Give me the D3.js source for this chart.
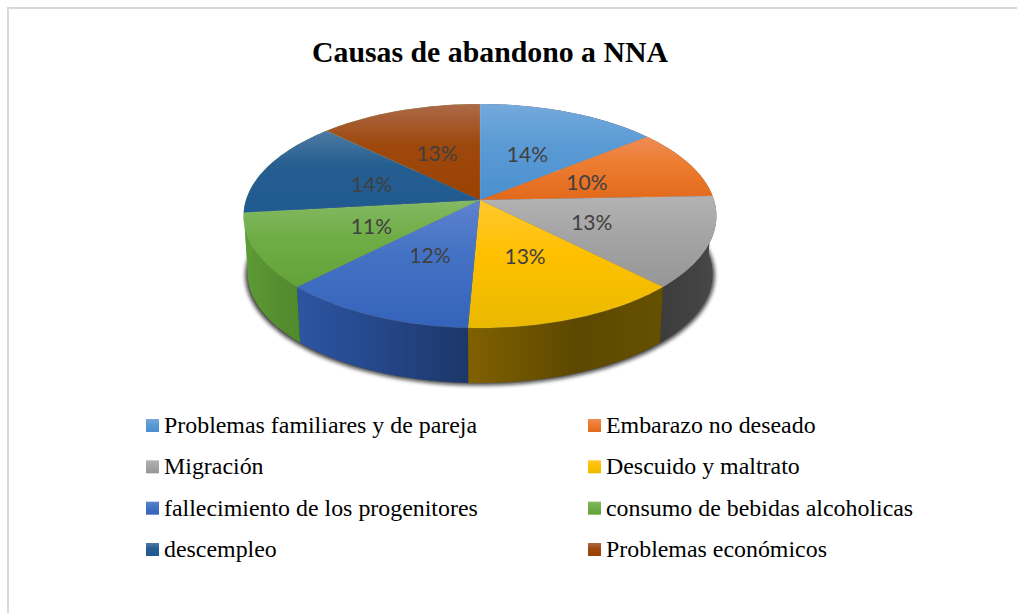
<!DOCTYPE html>
<html><head><meta charset="utf-8">
<script src="https://cdn.jsdelivr.net/npm/d3@7"></script>
<style>html,body{margin:0;padding:0;background:#fff;overflow:hidden}svg{display:block}</style>
</head><body><div id="chart"></div>
<script>
const title = "Causas de abandono a NNA";
const categories = ["Problemas familiares y de pareja","Embarazo no deseado","Migración","Descuido y maltrato","fallecimiento de los progenitores","consumo de bebidas alcoholicas","descempleo","Problemas económicos"];
const values = [14.2,10.2,13.2,13.1,11.7,10.8,14.0,12.8];
const topLight = ["#74a9dc","#ee8c55","#b3b3b3","#ffc82f","#5f82cf","#84b964","#4f7aa3","#ac6a48"];
const topBase  = ["#5b9bd5","#ed7d31","#a5a5a5","#ffc000","#4472c4","#70ad47","#255e91","#9e480e"];
const topDark  = ["#4a8fcf","#e2691b","#969696","#e9b900","#3463bb","#62a337","#1f5a90","#9a4200"];
const wallA    = ["#3c3c3c","#3c3c3c","#3c3c3c","#806100","#2c55a3","#5d9c35","#5d9c35","#5d9c35"];
const wallM    = ["#3c3c3c","#3c3c3c","#424242","#5c4800","#244585","#568f30","#5d9c35","#5d9c35"];
const wallB    = ["#3c3c3c","#3c3c3c","#484848","#665000","#1c3768","#4f8a2b","#5d9c35","#5d9c35"];
const legendColumns = 2;

const W = 1017, H = 613;
const svg = d3.select("#chart").append("svg").attr("width",W).attr("height",H);
const defs = svg.append("defs");

// Tilted disc: a point (r, angle) is mapped through a perspective divide.
const persp = 1/7;
const xScale = d3.scaleLinear().domain([-1,1]).range([246,714]);
const yTop = d3.scaleLinear().domain([-1,1]).range([309.7,90.3]);
const xBot = d3.scaleLinear().domain([-1,1]).range([250,710]);
const yBot = d3.scaleLinear().domain([-1,1]).range([365.1,150.1]);
const xShadow = d3.scaleLinear().domain([-1,1]).range([248,712]);
function project(xs, ys, r, a){
  const x = r*Math.sin(a), z = r*Math.cos(a), w = 1 + persp*z;
  return [xs(x/w), ys(z/w)];
}
const pie = d3.pie().sort(null).value(d=>d)(values);
const line = d3.line();
function arcPts(xs, ys, a0, a1){
  const n = Math.max(2, Math.ceil((a1-a0)/0.02));
  return d3.range(n+1).map(i=>project(xs,ys,1,a0+(a1-a0)*i/n));
}
function grad(id, horizontal, stops){
  const g = defs.append("linearGradient").attr("id",id)
    .attr("x1",0).attr("y1",0).attr("x2",horizontal?1:0).attr("y2",horizontal?0:1);
  stops.forEach(s=>g.append("stop").attr("offset",s[0]).attr("stop-color",s[1]));
}
pie.forEach((d,i)=>{
  grad("top"+i,false,[[0,topLight[i]],[0.42,topBase[i]],[1,topDark[i]]]);
  grad("wall"+i,true,[[0,wallA[i]],[0.55,wallM[i]],[1,wallB[i]]]);
});
defs.append("filter").attr("id","blur").attr("x","-5%").attr("y","-5%").attr("width","110%").attr("height","110%")
  .append("feGaussianBlur").attr("stdDeviation",2);

// frame
svg.append("path").attr("d",`M8 ${H}V8H${W}`).attr("fill","none").attr("stroke","#d9d9d9").attr("stroke-width",2);

// title
svg.append("text").attr("x",490).attr("y",62).attr("text-anchor","middle")
  .attr("font-family","'Liberation Serif'").attr("font-weight","bold").attr("font-size",29.8).attr("fill","#000").text(title);

// shadow
svg.append("path").attr("d",line(arcPts(xShadow,yBot,0,2*Math.PI))+"Z")
  .attr("transform","translate(0,2)").attr("fill","#111").attr("opacity",0.85).attr("filter","url(#blur)");

// walls
svg.append("g").selectAll("path").data(pie).join("path")
  .attr("d",d=>line(arcPts(xScale,yTop,d.startAngle,d.endAngle).concat(arcPts(xBot,yBot,d.startAngle,d.endAngle).reverse()))+"Z")
  .attr("fill",(d,i)=>`url(#wall${i})`);

// top faces
svg.append("g").selectAll("path").data(pie).join("path")
  .attr("d",d=>line([project(xScale,yTop,0,0)].concat(arcPts(xScale,yTop,d.startAngle,d.endAngle)))+"Z")
  .attr("fill",(d,i)=>`url(#top${i})`)
  .attr("stroke","#fff").attr("stroke-opacity",0.12).attr("stroke-width",0.6);

// data labels
svg.append("g").selectAll("text").data(pie).join("text")
  .attr("transform",d=>{const p=project(xScale,yTop,0.5,(d.startAngle+d.endAngle)/2);return `translate(${p[0]},${p[1]})`;})
  .attr("text-anchor","middle").attr("dy","0.42em")
  .attr("font-family","Lato").attr("font-size",21).attr("fill","#404040")
  .text(d=>d3.format(".0%")(d.value/d3.sum(values)));

// legend
const legX = d3.scaleOrdinal().domain([0,1]).range([146,588]);
const legY = d3.scaleLinear().domain([0,3]).range([433,557]);
const leg = svg.append("g").selectAll("g").data(categories).join("g")
  .attr("transform",(d,i)=>`translate(${legX(i%legendColumns)},${legY(Math.floor(i/legendColumns))})`);
leg.append("rect").attr("x",0).attr("y",-14).attr("width",13).attr("height",13).attr("fill",(d,i)=>`url(#top${i})`);
leg.append("text").attr("x",18).attr("y",0)
  .attr("font-family","'Liberation Serif'").attr("font-size",23.9).attr("fill","#000").text(d=>d);
</script></body></html>
